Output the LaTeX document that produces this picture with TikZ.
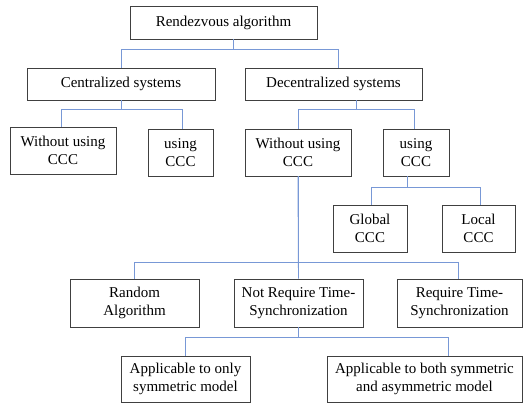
\documentclass[tikz,border=0pt]{standalone}
\usepackage{fontspec}
\setmainfont{Liberation Serif}
\definecolor{boxgray}{RGB}{64,64,64}
\definecolor{connblue}{RGB}{120,152,214}
\begin{document}
\begin{tikzpicture}[x=1pt,y=1pt,
  box/.style={draw=boxgray,line width=0.9pt,align=center,inner sep=0pt,
    font=\fontsize{15}{18}\selectfont,text=black},
  conn/.style={draw=connblue,line width=0.9pt}]
\useasboundingbox[fill=white] (0,0) rectangle (531,-403);
\node[box,minimum width=187,minimum height=33] (top) at (223.5,-22.5) {Rendezvous algorithm};
\node[box,minimum width=188,minimum height=32] (cen) at (121,-84) {Centralized systems};
\node[box,minimum width=177,minimum height=32] (dec) at (333.5,-84) {Decentralized systems};
\node[box,minimum width=106,minimum height=47] (cwo) at (63,-150.5) {Without using\\CCC};
\node[box,minimum width=65,minimum height=47] (cus) at (180.5,-152.5) {using\\CCC};
\node[box,minimum width=106,minimum height=47] (dwo) at (298,-152.5) {Without using\\CCC};
\node[box,minimum width=66,minimum height=47] (dus) at (416,-152.5) {using\\CCC};
\node[box,minimum width=74,minimum height=47] (glo) at (370,-228.5) {Global\\CCC};
\node[box,minimum width=73,minimum height=47] (loc) at (478.5,-228.5) {Local\\CCC};
\node[box,minimum width=129,minimum height=48] (ran) at (134.5,-303) {Random\\Algorithm};
\node[box,minimum width=129,minimum height=48] (nrt) at (298.5,-303) {Not Require Time-\\Synchronization};
\node[box,minimum width=125,minimum height=48] (rt) at (459.5,-303) {Require Time-\\Synchronization};
\node[box,minimum width=129,minimum height=46] (aps) at (185.5,-379) {Applicable to only\\symmetric model};
\node[box,minimum width=195,minimum height=46] (apb) at (424.5,-379) {Applicable to both symmetric\\and asymmetric model};
% connectors
\draw[conn] ([xshift=9.5pt]top.south) -- ++(0,-10) -| (cen.north);
\draw[conn] ([xshift=9.5pt]top.south) -- ++(0,-10) -| ([xshift=4.5pt]dec.north);
\draw[conn] (cen.south) -- ++(0,-9) -| ([xshift=-2pt]cwo.north);
\draw[conn] (cen.south) -- ++(0,-9) -| ([xshift=1.5pt]cus.north);
\draw[conn] ([xshift=22.5pt]dec.south) -- ++(0,-9) -| (dwo.north);
\draw[conn] ([xshift=22.5pt]dec.south) -- ++(0,-9) -| ([xshift=-2pt]dus.north);
\draw[conn] ([xshift=-9pt]dus.south) -- ++(0,-11) -| ([xshift=1pt]glo.north);
\draw[conn] ([xshift=-9pt]dus.south) -- ++(0,-11) -| ([xshift=1.5pt]loc.north);
\draw[conn] (dwo.south) -- ++(0,-86) -| (ran.north);
\draw[conn] (dwo.south) -- (nrt.north);
\draw[conn] (dwo.south) -- ++(0,-86) -| ([xshift=-1.5pt]rt.north);
\draw[conn] (nrt.south) -- ++(0,-10) -| (aps.north);
\draw[conn] (nrt.south) -- ++(0,-10) -| ([xshift=23.5pt]apb.north);
\end{tikzpicture}
\end{document}
